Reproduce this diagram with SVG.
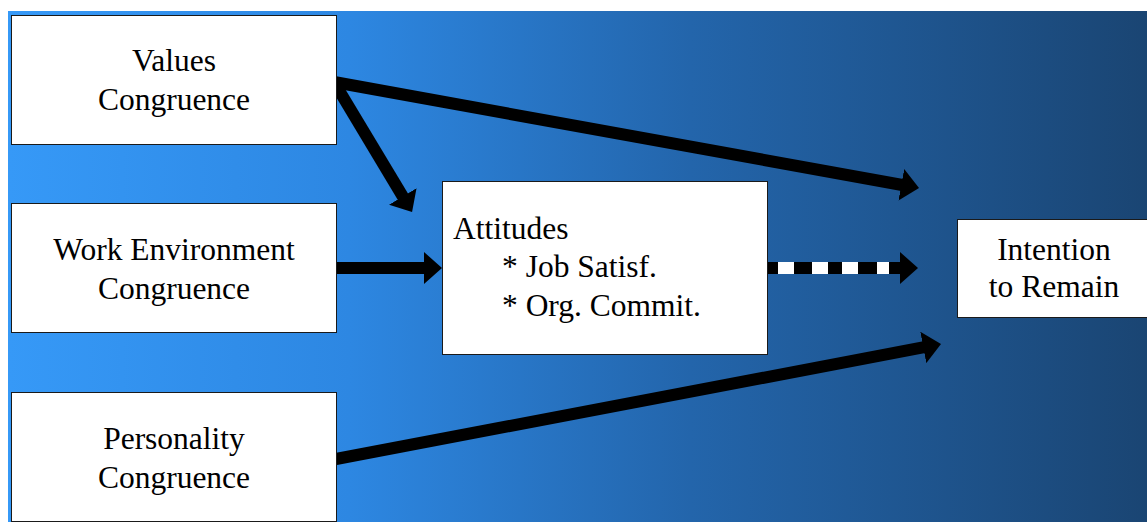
<svg xmlns="http://www.w3.org/2000/svg" width="1147" height="522" viewBox="0 0 1147 522">
<style>
.box{fill:#ffffff;stroke:#1a1a1a;stroke-width:1}
.lbl{font-family:"Liberation Serif","Times New Roman",serif;font-size:31.5px;fill:#000}
.mid{text-anchor:middle}
.conn{stroke:#000;stroke-width:12;fill:none;stroke-linecap:butt}
.dash{stroke:#fff;stroke-width:12;fill:none;stroke-dasharray:16 18 16 14 16 19 12 60}
</style>
<defs>
<linearGradient id="bg" x1="0" y1="0" x2="1" y2="0">
<stop offset="0" stop-color="#3699f7"/>
<stop offset="0.3" stop-color="#2d87e2"/>
<stop offset="0.6" stop-color="#2365ab"/>
<stop offset="1" stop-color="#1a4573"/>
</linearGradient>
<marker id="ah" markerUnits="userSpaceOnUse" viewBox="0 0 18 32" refX="1" refY="16" markerWidth="18" markerHeight="32" orient="auto">
<path d="M0,0 L18,16 L0,32 z" fill="#000"/>
</marker>
</defs>
<rect x="0" y="0" width="1147" height="522" fill="#ffffff"/>
<rect x="8" y="11" width="1139" height="511" fill="url(#bg)"/>
<g id="connectors">
<line class="conn" x1="334" y1="82" x2="902.3" y2="185" marker-end="url(#ah)"/>
<line class="conn" x1="334" y1="82" x2="403.3" y2="197.4" marker-end="url(#ah)"/>
<line class="conn" x1="336" y1="268" x2="425" y2="268" marker-end="url(#ah)"/>
<line class="conn" x1="767" y1="268" x2="901" y2="268" marker-end="url(#ah)"/>
<line class="dash" x1="778" y1="268" x2="889" y2="268"/>
<line class="conn" x1="336" y1="459" x2="924.3" y2="347.2" marker-end="url(#ah)"/>
</g>
<g id="values">
<rect class="box" x="11.5" y="15.5" width="325" height="129"/>
<text class="lbl mid" x="174" y="71">Values</text>
<text class="lbl mid" x="174" y="110">Congruence</text>
</g>
<g id="workenv">
<rect class="box" x="11.5" y="203.5" width="325" height="129"/>
<text class="lbl mid" x="174" y="260">Work Environment</text>
<text class="lbl mid" x="174" y="299">Congruence</text>
</g>
<g id="personality">
<rect class="box" x="11.5" y="392.5" width="325" height="129"/>
<text class="lbl mid" x="174" y="449">Personality</text>
<text class="lbl mid" x="174" y="488">Congruence</text>
</g>
<g id="attitudes">
<rect class="box" x="442.5" y="181.5" width="325" height="173"/>
<text class="lbl" x="453" y="239">Attitudes</text>
<text class="lbl" x="502" y="277">* Job Satisf.</text>
<text class="lbl" x="502" y="316">* Org. Commit.</text>
</g>
<g id="intention">
<rect class="box" x="957.5" y="219.5" width="195" height="98"/>
<text class="lbl mid" x="1054" y="260">Intention</text>
<text class="lbl mid" x="1054" y="297">to Remain</text>
</g>
</svg>
